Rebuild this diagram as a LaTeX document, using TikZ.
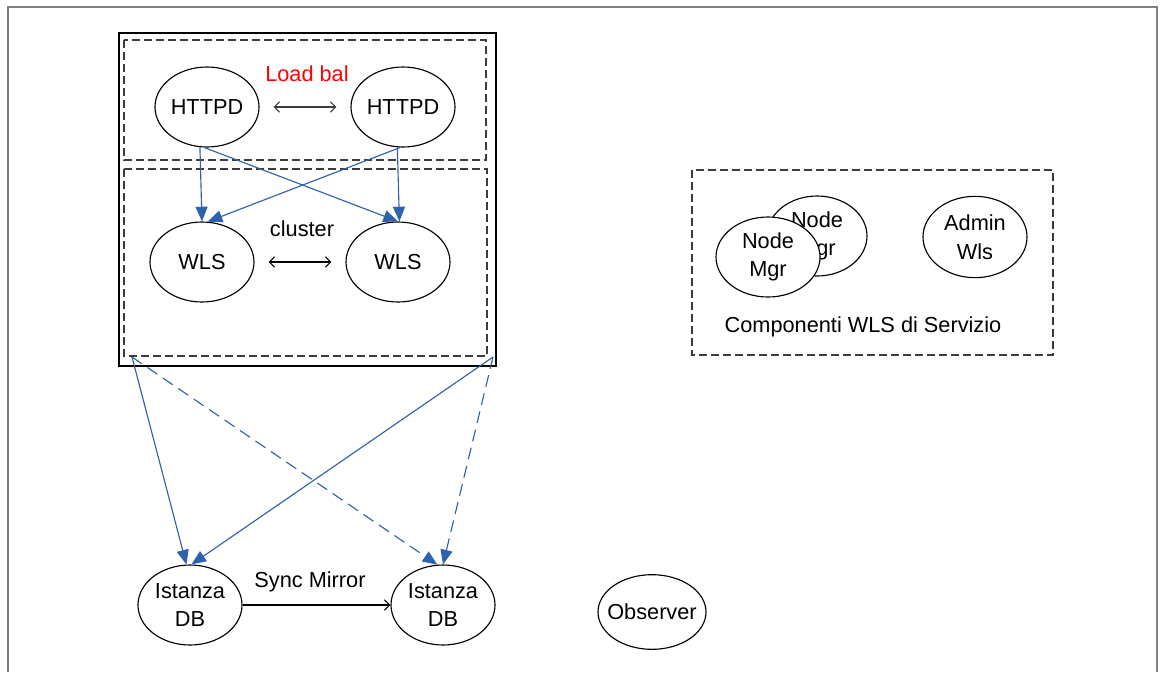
\documentclass[tikz,border=0pt]{standalone}
\usepackage{fontspec}
\setmainfont{Liberation Sans}
\usetikzlibrary{shapes.geometric,arrows.meta}
\definecolor{arrowblue}{RGB}{47,98,172}
\definecolor{framegray}{RGB}{128,128,128}
\definecolor{dashgray}{RGB}{60,60,60}
\begin{document}
\begin{tikzpicture}[x=0.75pt,y=-0.75pt,
  every node/.style={font=\fontsize{16.3}{21.5}\selectfont},
  oval/.style={ellipse,draw,line width=0.85pt,fill=white,inner sep=0pt,
    minimum width=78pt,minimum height=60pt,align=center},
  dashbox/.style={draw=dashgray,line width=1.1pt,dash pattern=on 6pt off 3pt},
  bluearrow/.style={draw=arrowblue,line width=0.85pt,
    -{Triangle[length=11pt,width=9pt]}},
  twoway/.style={line width=0.8pt,{Straight Barb[length=4pt,width=8pt]}-{Straight Barb[length=4pt,width=8pt]},
    shorten <=10.5pt,shorten >=10.5pt},
  oneway/.style={line width=0.8pt,-{Straight Barb[length=4pt,width=8pt]}}]
\useasboundingbox (0,0) rectangle (1161,672);
\fill[white] (0,0) rectangle (1161,672);
% outer frame
\draw[framegray,line width=1.5pt] (8,672) -- (8,7) -- (1157,7) -- (1157,672);
% web tier boxes
\draw[line width=1.1pt] (119,33) rectangle (496,366);
\draw[dashbox] (124,40) rectangle (486,160);
\draw[dashbox] (124,169) rectangle (487,356);
% nodes
\node[oval] (h1) at (207,107) {HTTPD};
\node[oval] (h2) at (403,107) {HTTPD};
\node[oval] (w1) at (202,262) {WLS};
\node[oval] (w2) at (398,262) {WLS};
\node[text=red] (lb) at (307,74) {Load bal};
\node (cl) at (302,229) {cluster};
\draw[twoway,draw=dashgray] (h1) -- (h2);
\draw[twoway] (w1) -- (w2);
\draw[bluearrow] (h1.260) -- (w1.north);
\draw[bluearrow] (h1.266) -- (w2.north);
\draw[bluearrow] (h2.266) -- (w1.82);
\draw[bluearrow] (h2.262) -- (w2.88);
% service components
\draw[dashbox] (692,170) rectangle (1053,355);
\node[oval,minimum width=75pt] (nm2) at (817,236) {Node\\Mgr};
\node[oval] (nm1) at (768,257) {Node\\Mgr};
\node[oval,minimum height=61pt] (adm) at (975,237) {Admin\\Wls};
\node (svc) at (863,327) {Componenti WLS di Servizio};
% database tier
\node[oval] (db1) at (190,605) {Istanza\\DB};
\node[oval] (db2) at (443,605) {Istanza\\DB};
\node[oval,minimum width=81pt,minimum height=56pt] (obs) at (652,612) {\makebox[0pt]{Observer}};
\draw[oneway] (db1) -- (db2);
\node (sm) at (310,582) {Sync Mirror};
\coordinate (s1) at (132,357);
\coordinate (s2) at (493,357);
\draw[bluearrow] (s1) -- (db1.95);
\draw[bluearrow] (s2) -- (db1.88);
\draw[bluearrow,dash pattern=on 9pt off 5pt] (s1) -- (db2.98);
\draw[bluearrow,dash pattern=on 9pt off 5pt] (s2) -- (db2.90);
\end{tikzpicture}
\end{document}
